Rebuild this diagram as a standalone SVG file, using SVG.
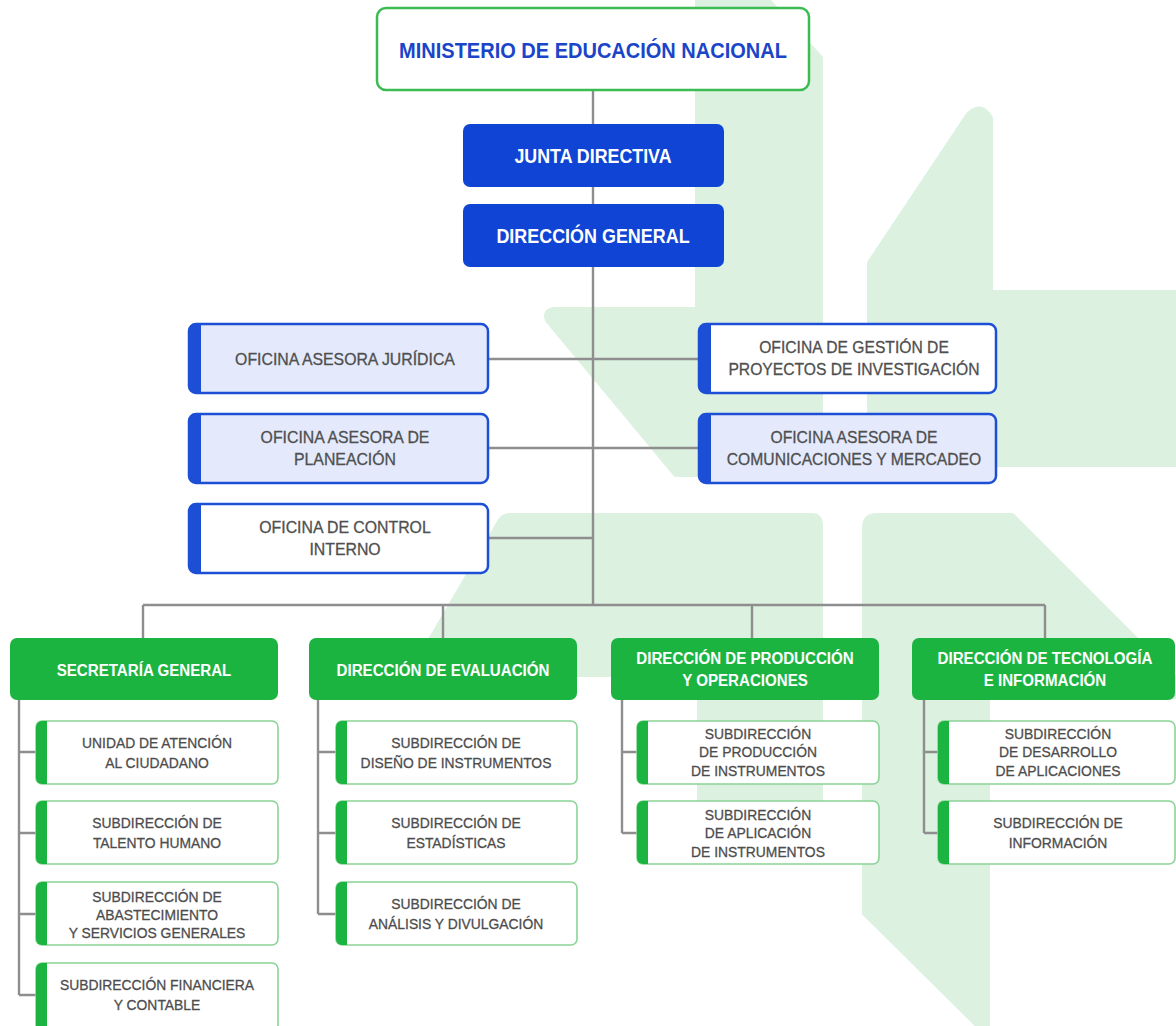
<svg xmlns="http://www.w3.org/2000/svg" width="1176" height="1026" viewBox="0 0 1176 1026">
<style>
.wm{fill:#dcf1e0;stroke:#dcf1e0;stroke-width:6;stroke-linejoin:round}
.conn{stroke:#8e8e8e;stroke-width:2.4;fill:none}
.ministry{fill:#fff;stroke:#3cbb52;stroke-width:2.5}
.blue{fill:#1044d4}
.off{stroke:#1d4fd6;stroke-width:2.5}
.offL{fill:#e4eafb}
.offW{fill:#fff}
.offBar{fill:#1d4fd6}
.hdr{fill:#1cb441}
.sub{fill:#fff;stroke:#8ad497;stroke-width:1.6}
.subBar{fill:#1cb441}
text{font-family:"Liberation Sans",Arial,sans-serif;text-anchor:middle}
.tMin{font-size:22px;font-weight:bold;fill:#1a45c9}
.tBlue{font-size:19.5px;font-weight:bold;fill:#fff}
.tOff{font-size:16.5px;fill:#4f4f4f;stroke:#4f4f4f;stroke-width:0.3}
.tHdr{font-size:16.8px;font-weight:bold;fill:#fff}
.tSub{font-size:15px;fill:#4d4d4d;stroke:#4d4d4d;stroke-width:0.3}
</style>

<g id="watermark">
<path class="wm" d="M698,0 H767 L820,58 V474 H676 L548,320 Q544,310 556,310 H698 Z"/>
<path class="wm" d="M870,263 L968,116 Q980,102 990,118 V293 H1176 V464 H870 Z"/>
<path class="wm" d="M510,516 H812 Q820,516 820,526 V852 H700 V674 H411 L500,522 Q503,516 510,516 Z"/>
<path class="wm" d="M865,528 Q865,516 877,516 H1012 L1176,680 V696 H987 V1026 H979 L865,913 Z"/>
</g>

<g id="connectors">
<path class="conn" d="M593,90 V605"/>
<path class="conn" d="M143,605 H1045 M143,605 V638 M443,605 V638 M752,605 V638 M1045,605 V638"/>
<path class="conn" d="M488,359 H699 M488,448 H699 M488,538 H593"/>
<path class="conn" d="M19,700 V995 M19,752 H36 M19,833 H36 M19,914 H36 M19,995 H36"/>
<path class="conn" d="M318,700 V914 M318,752 H336 M318,833 H336 M318,914 H336"/>
<path class="conn" d="M622,700 V833 M622,752 H637 M622,833 H637"/>
<path class="conn" d="M924,700 V833 M924,752 H938 M924,833 H938"/>
</g>

<g id="ministerio">
<rect class="ministry" x="377" y="8" width="432" height="82" rx="9"/>
<text class="tMin" transform="translate(593 0) scale(0.91 1)"><tspan x="0" y="58">MINISTERIO DE EDUCACIÓN NACIONAL</tspan></text>
</g>

<g id="junta-directiva">
<rect class="blue" x="463" y="124" width="261" height="63" rx="7"/>
<text class="tBlue" transform="translate(593 0) scale(0.915 1)"><tspan x="0" y="163.5">JUNTA DIRECTIVA</tspan></text>
</g>

<g id="direccion-general">
<rect class="blue" x="463" y="204" width="261" height="63" rx="7"/>
<text class="tBlue" transform="translate(593 0) scale(0.92 1)"><tspan x="0" y="243.5">DIRECCIÓN GENERAL</tspan></text>
</g>

<g id="oficina-juridica">
<rect class="off offL" x="189" y="324" width="299" height="69" rx="7"/>
<path class="offBar" d="M196,324 H201 V393 H196 A7,7 0 0 1 189,386 V331 A7,7 0 0 1 196,324 Z"/>
<text class="tOff" transform="translate(345 0) scale(0.96 1)"><tspan x="0" y="365">OFICINA ASESORA JURÍDICA</tspan></text>
</g>

<g id="oficina-planeacion">
<rect class="off offL" x="189" y="414" width="299" height="69" rx="7"/>
<path class="offBar" d="M196,414 H201 V483 H196 A7,7 0 0 1 189,476 V421 A7,7 0 0 1 196,414 Z"/>
<text class="tOff" transform="translate(345 0) scale(0.96 1)"><tspan x="0" y="443">OFICINA ASESORA DE</tspan><tspan x="0" y="465">PLANEACIÓN</tspan></text>
</g>

<g id="oficina-control">
<rect class="off offW" x="189" y="504" width="299" height="69" rx="7"/>
<path class="offBar" d="M196,504 H201 V573 H196 A7,7 0 0 1 189,566 V511 A7,7 0 0 1 196,504 Z"/>
<text class="tOff" transform="translate(345 0) scale(0.96 1)"><tspan x="0" y="533">OFICINA DE CONTROL</tspan><tspan x="0" y="555">INTERNO</tspan></text>
</g>

<g id="oficina-gestion">
<rect class="off offW" x="699" y="324" width="297" height="69" rx="7"/>
<path class="offBar" d="M706,324 H711 V393 H706 A7,7 0 0 1 699,386 V331 A7,7 0 0 1 706,324 Z"/>
<text class="tOff" transform="translate(854 0) scale(0.95 1)"><tspan x="0" y="353">OFICINA DE GESTIÓN DE</tspan><tspan x="0" y="375">PROYECTOS DE INVESTIGACIÓN</tspan></text>
</g>

<g id="oficina-comunicaciones">
<rect class="off offL" x="699" y="414" width="297" height="69" rx="7"/>
<path class="offBar" d="M706,414 H711 V483 H706 A7,7 0 0 1 699,476 V421 A7,7 0 0 1 706,414 Z"/>
<text class="tOff" transform="translate(854 0) scale(0.95 1)"><tspan x="0" y="443">OFICINA ASESORA DE</tspan><tspan x="0" y="465">COMUNICACIONES Y MERCADEO</tspan></text>
</g>

<g id="secretaria-general">
<rect class="hdr" x="10" y="638" width="268" height="62" rx="7"/>
<text class="tHdr" transform="translate(144 0) scale(0.9 1)"><tspan x="0" y="676">SECRETARÍA GENERAL</tspan></text>
</g>

<g id="direccion-evaluacion">
<rect class="hdr" x="309" y="638" width="268" height="62" rx="7"/>
<text class="tHdr" transform="translate(443 0) scale(0.9 1)"><tspan x="0" y="676">DIRECCIÓN DE EVALUACIÓN</tspan></text>
</g>

<g id="direccion-produccion">
<rect class="hdr" x="611" y="638" width="268" height="62" rx="7"/>
<text class="tHdr" transform="translate(745 0) scale(0.9 1)"><tspan x="0" y="664">DIRECCIÓN DE PRODUCCIÓN</tspan><tspan x="0" y="686">Y OPERACIONES</tspan></text>
</g>

<g id="direccion-tecnologia">
<rect class="hdr" x="912" y="638" width="263" height="62" rx="7"/>
<text class="tHdr" transform="translate(1045 0) scale(0.9 1)"><tspan x="0" y="664">DIRECCIÓN DE TECNOLOGÍA</tspan><tspan x="0" y="686">E INFORMACIÓN</tspan></text>
</g>

<g id="unidad-atencion">
<rect class="sub" x="36" y="721" width="242" height="63" rx="6"/>
<path class="subBar" d="M42,721 H47 V784 H42 A6,6 0 0 1 36,778 V727 A6,6 0 0 1 42,721 Z"/>
<text class="tSub" transform="translate(157 0) scale(0.925 1)"><tspan x="0" y="748">UNIDAD DE ATENCIÓN</tspan><tspan x="0" y="768">AL CIUDADANO</tspan></text>
</g>

<g id="sub-talento">
<rect class="sub" x="36" y="801" width="242" height="63" rx="6"/>
<path class="subBar" d="M42,801 H47 V864 H42 A6,6 0 0 1 36,858 V807 A6,6 0 0 1 42,801 Z"/>
<text class="tSub" transform="translate(157 0) scale(0.925 1)"><tspan x="0" y="828">SUBDIRECCIÓN DE</tspan><tspan x="0" y="848">TALENTO HUMANO</tspan></text>
</g>

<g id="sub-abastecimiento">
<rect class="sub" x="36" y="882" width="242" height="63" rx="6"/>
<path class="subBar" d="M42,882 H47 V945 H42 A6,6 0 0 1 36,939 V888 A6,6 0 0 1 42,882 Z"/>
<text class="tSub" transform="translate(157 0) scale(0.925 1)"><tspan x="0" y="902">SUBDIRECCIÓN DE</tspan><tspan x="0" y="920">ABASTECIMIENTO</tspan><tspan x="0" y="938">Y SERVICIOS GENERALES</tspan></text>
</g>

<g id="sub-financiera">
<rect class="sub" x="36" y="963" width="242" height="68" rx="6"/>
<path class="subBar" d="M42,963 H47 V1031 H42 A6,6 0 0 1 36,1025 V969 A6,6 0 0 1 42,963 Z"/>
<text class="tSub" transform="translate(157 0) scale(0.925 1)"><tspan x="0" y="990">SUBDIRECCIÓN FINANCIERA</tspan><tspan x="0" y="1010">Y CONTABLE</tspan></text>
</g>

<g id="sub-diseno">
<rect class="sub" x="336" y="721" width="241" height="63" rx="6"/>
<path class="subBar" d="M342,721 H347 V784 H342 A6,6 0 0 1 336,778 V727 A6,6 0 0 1 342,721 Z"/>
<text class="tSub" transform="translate(456 0) scale(0.925 1)"><tspan x="0" y="748">SUBDIRECCIÓN DE</tspan><tspan x="0" y="768">DISEÑO DE INSTRUMENTOS</tspan></text>
</g>

<g id="sub-estadisticas">
<rect class="sub" x="336" y="801" width="241" height="63" rx="6"/>
<path class="subBar" d="M342,801 H347 V864 H342 A6,6 0 0 1 336,858 V807 A6,6 0 0 1 342,801 Z"/>
<text class="tSub" transform="translate(456 0) scale(0.925 1)"><tspan x="0" y="828">SUBDIRECCIÓN DE</tspan><tspan x="0" y="848">ESTADÍSTICAS</tspan></text>
</g>

<g id="sub-analisis">
<rect class="sub" x="336" y="882" width="241" height="63" rx="6"/>
<path class="subBar" d="M342,882 H347 V945 H342 A6,6 0 0 1 336,939 V888 A6,6 0 0 1 342,882 Z"/>
<text class="tSub" transform="translate(456 0) scale(0.925 1)"><tspan x="0" y="909">SUBDIRECCIÓN DE</tspan><tspan x="0" y="929">ANÁLISIS Y DIVULGACIÓN</tspan></text>
</g>

<g id="sub-produccion">
<rect class="sub" x="637" y="721" width="242" height="63" rx="6"/>
<path class="subBar" d="M643,721 H648 V784 H643 A6,6 0 0 1 637,778 V727 A6,6 0 0 1 643,721 Z"/>
<text class="tSub" transform="translate(758 0) scale(0.925 1)"><tspan x="0" y="739">SUBDIRECCIÓN</tspan><tspan x="0" y="757.5">DE PRODUCCIÓN</tspan><tspan x="0" y="776">DE INSTRUMENTOS</tspan></text>
</g>

<g id="sub-aplicacion">
<rect class="sub" x="637" y="801" width="242" height="63" rx="6"/>
<path class="subBar" d="M643,801 H648 V864 H643 A6,6 0 0 1 637,858 V807 A6,6 0 0 1 643,801 Z"/>
<text class="tSub" transform="translate(758 0) scale(0.925 1)"><tspan x="0" y="820">SUBDIRECCIÓN</tspan><tspan x="0" y="838.5">DE APLICACIÓN</tspan><tspan x="0" y="857">DE INSTRUMENTOS</tspan></text>
</g>

<g id="sub-desarrollo">
<rect class="sub" x="938" y="721" width="237" height="63" rx="6"/>
<path class="subBar" d="M944,721 H949 V784 H944 A6,6 0 0 1 938,778 V727 A6,6 0 0 1 944,721 Z"/>
<text class="tSub" transform="translate(1058 0) scale(0.925 1)"><tspan x="0" y="739">SUBDIRECCIÓN</tspan><tspan x="0" y="757.5">DE DESARROLLO</tspan><tspan x="0" y="776">DE APLICACIONES</tspan></text>
</g>

<g id="sub-informacion">
<rect class="sub" x="938" y="801" width="237" height="63" rx="6"/>
<path class="subBar" d="M944,801 H949 V864 H944 A6,6 0 0 1 938,858 V807 A6,6 0 0 1 944,801 Z"/>
<text class="tSub" transform="translate(1058 0) scale(0.925 1)"><tspan x="0" y="828">SUBDIRECCIÓN DE</tspan><tspan x="0" y="848">INFORMACIÓN</tspan></text>
</g>
</svg>
